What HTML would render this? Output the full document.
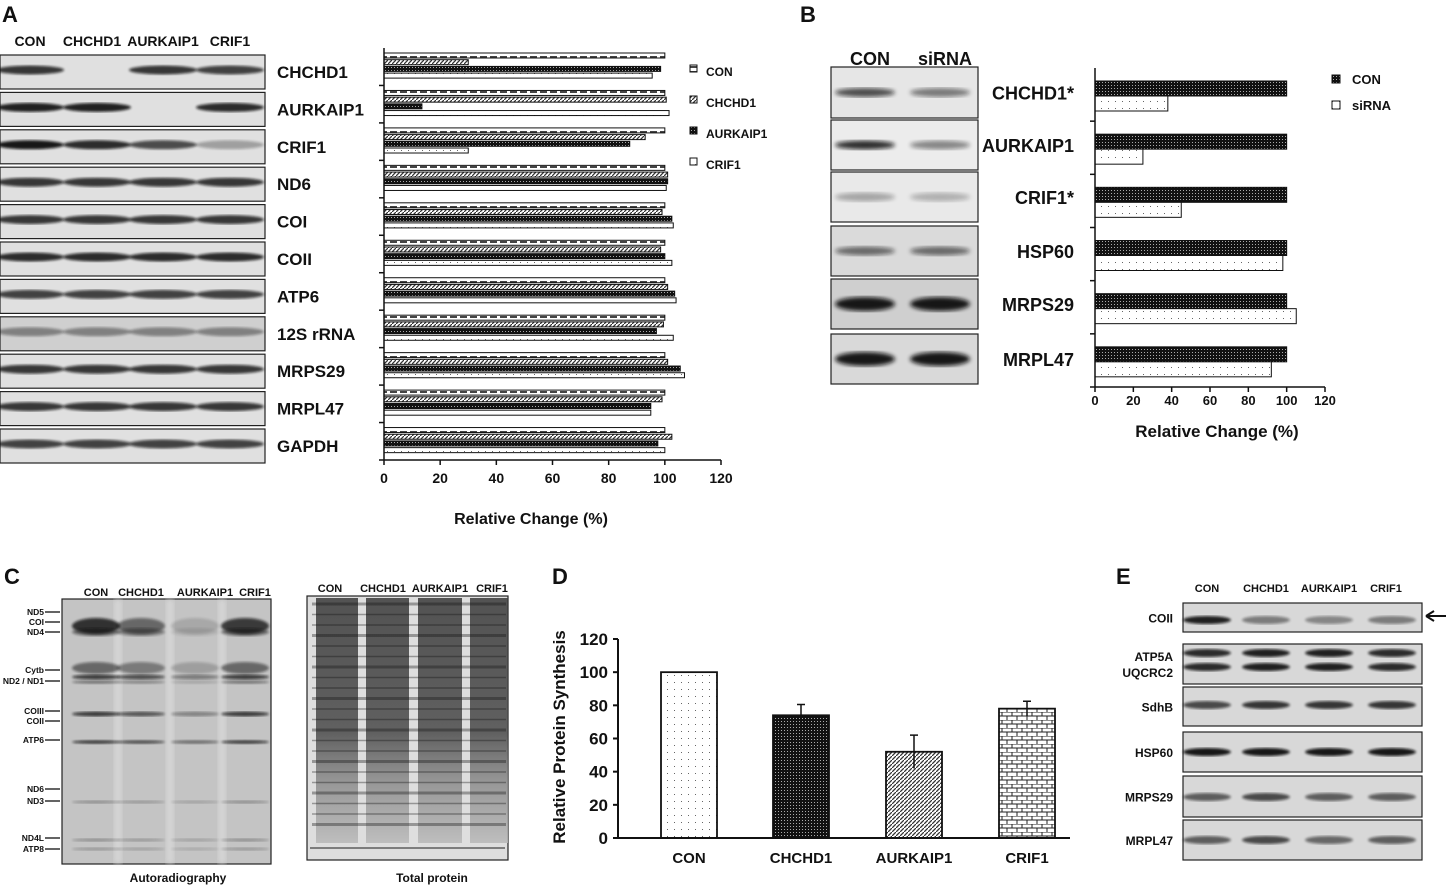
<!DOCTYPE html>
<html><head><meta charset="utf-8"><style>
html,body{margin:0;padding:0;background:#fff;}
svg{display:block;font-family:"Liberation Sans",Arial,sans-serif;font-weight:bold;}
</style></head><body>
<svg id="fig" width="1446" height="887" viewBox="0 0 1446 887" xmlns="http://www.w3.org/2000/svg">
<defs>
<filter id="blur2"><feGaussianBlur stdDeviation="2.2"/></filter>
<filter id="blur1"><feGaussianBlur stdDeviation="1.2"/></filter>
<linearGradient id="laneGrad" x1="0" y1="0" x2="0" y2="1">
<stop offset="0" stop-color="#3a3a3a"/><stop offset="0.55" stop-color="#4a4a4a"/><stop offset="0.75" stop-color="#8a8a8a"/><stop offset="1" stop-color="#b8b8b8"/></linearGradient>
<pattern id="pCon" width="10" height="5" patternUnits="userSpaceOnUse"><rect width="10" height="5" fill="#fff"/><rect x="0" y="1" width="7" height="2" fill="#444"/></pattern>
<pattern id="pHatch" width="4" height="4" patternUnits="userSpaceOnUse"><rect width="4" height="4" fill="#fff"/><path d="M0,4 L4,0" stroke="#333" stroke-width="1.3"/></pattern>
<pattern id="pDark" width="3" height="3" patternUnits="userSpaceOnUse"><rect width="3" height="3" fill="#111"/><rect x="1" y="1" width="1" height="1" fill="#aaa"/></pattern>
<pattern id="pDot" width="7" height="7" patternUnits="userSpaceOnUse"><rect width="7" height="7" fill="#fff"/><rect x="2" y="3" width="1" height="1" fill="#666"/></pattern>
<pattern id="pBrick" width="10" height="8" patternUnits="userSpaceOnUse"><rect width="10" height="8" fill="#fff"/><path d="M0,0H10M0,4H10M2,0V4M7,4V8" stroke="#222" stroke-width="1"/></pattern>
</defs>
<g id="root"></g>
</svg>
<script>
// ---------- Panel A data ----------
const aGenes = ["CHCHD1","AURKAIP1","CRIF1","ND6","COI","COII","ATP6","12S rRNA","MRPS29","MRPL47","GAPDH"];
const aSeries = ["CON","CHCHD1","AURKAIP1","CRIF1"];
const aCON = [100,100,100,100,100,100,100,100,100,100,100];
const aCHCHD1 = [30,100.5,93,101,99,98.5,101,99.5,101,99,102.5];
const aAURK = [98.5,13.5,87.5,101,102.5,100,103.5,97,105.5,95,97.5];
const aCRIF1 = [95.5,101.5,30,100.5,103,102.5,104,103,107,95,100];
const aTicks = [0,20,40,60,80,100,120];
// ---------- Panel B data ----------
const bGenes = ["CHCHD1*","AURKAIP1","CRIF1*","HSP60","MRPS29","MRPL47"];
const bCON = [100,100,100,100,100,100];
const bSi = [38,25,45,98,105,92];
const bTicks = [0,20,40,60,80,100,120];
// ---------- Panel D data ----------
const dCats = ["CON","CHCHD1","AURKAIP1","CRIF1"];
const dVals = [100,74,52,78];
const dErr = [0,6.5,10,4.5];
const dTicks = [0,20,40,60,80,100,120];

const NS="http://www.w3.org/2000/svg";
const root=document.getElementById('root');
function mk(tag,attrs,parent){const e=document.createElementNS(NS,tag);for(const k in attrs)e.setAttribute(k,attrs[k]);(parent||root).appendChild(e);return e;}
function txt(x,y,s,size,anchor,parent){const t=mk('text',{x:x,y:y,'font-size':size,'text-anchor':anchor||'start',fill:'#111'},parent);t.textContent=s;return t;}

// Panel letters
[["A",2,22],["B",800,22],["C",4,584],["D",552,584],["E",1116,584]].forEach(p=>{const t=txt(p[1],p[2],p[0],22);

});

// ---- Panel A blots ----
const gA=mk('g',{});


["CON","CHCHD1","AURKAIP1","CRIF1"].forEach((s,i)=>{txt([30,92,163,230][i],46,s,14,'middle',gA);});
const aInt=[[0.8,0.05,0.8,0.75],[0.9,0.9,0.05,0.85],[0.95,0.85,0.7,0.3],[0.8,0.8,0.8,0.8],[0.8,0.8,0.8,0.8],[0.85,0.85,0.85,0.85],[0.75,0.75,0.75,0.75],[0.4,0.4,0.4,0.4],[0.8,0.8,0.8,0.8],[0.8,0.8,0.8,0.8],[0.75,0.75,0.75,0.75]];
aGenes.forEach((g,r)=>{
  const y=55+r*37.4;
  mk('rect',{x:0,y:y,width:265,height:34,fill:r==7?'#cfcfcf':'#e0e0e0',stroke:'#222','stroke-width':1.2},gA);
  [30,97,163,230].forEach((cx,i)=>{const v=aInt[r][i];if(v>0.08)mk('ellipse',{cx:cx,cy:y+15,rx:34,ry:4.5,fill:'#111',opacity:v,filter:'url(#blur1)'},gA);});
  const t=txt(277,y+23,g,17,'start',gA);
  
  
});

// ---- Panel A chart ----
const gAc=mk('g',{});


const ax0=384, axScale=(721-384)/120, aTop=48, aBot=460, aGH=(aBot-aTop)/aGenes.length;
const xA=v=>ax0+v*axScale;
const aData=[aCON,aCHCHD1,aAURK,aCRIF1];
const aFills=['url(#pCon)','url(#pHatch)','url(#pDark)','url(#pDot)'];
aGenes.forEach((g,gi)=>{
  aData.forEach((arr,si)=>{
    const r=mk('rect',{x:xA(0),y:aTop+gi*aGH+5+si*6.7,width:xA(arr[gi])-xA(0),height:5,fill:aFills[si],stroke:'#111','stroke-width':1},gAc);
    
    
  });
  mk('line',{x1:ax0-5,x2:ax0,y1:aTop+(gi+1)*aGH,y2:aTop+(gi+1)*aGH,stroke:'#111','stroke-width':1.5},gAc);
});
mk('line',{x1:ax0,x2:ax0,y1:aTop,y2:aBot,stroke:'#111','stroke-width':1.5},gAc);
mk('line',{x1:ax0,x2:xA(120),y1:aBot,y2:aBot,stroke:'#111','stroke-width':1.5},gAc);
aTicks.forEach(t=>{mk('line',{x1:xA(t),x2:xA(t),y1:aBot,y2:aBot+5,stroke:'#111','stroke-width':1.5},gAc);
  const l=txt(xA(t),483,String(t),14,'middle',gAc);
  
  });
const aXT=txt(531,524,"Relative Change (%)",16,'middle',gAc);


aSeries.forEach((s,i)=>{const y=72+i*31;
  const le=mk('g',{},gAc);
  
  
  mk('rect',{x:690,y:y-7,width:7,height:7,fill:aFills[i],stroke:'#111','stroke-width':1},le);
  txt(706,y+4,s,12,'start',le);});

// ---- Panel B blots ----
const gB=mk('g',{});


txt(870,65,"CON",18,'middle',gB);txt(945,65,"siRNA",18,'middle',gB);
const bRows=[[67,51],[120,50],[172,50],[226,50],[279,50],[334,50]];
const bInt=[[0.7,0.5],[0.85,0.45],[0.3,0.25],[0.55,0.55],[0.95,0.95],[0.95,0.95]];
const bBg=['#e6e6e6','#ececec','#e9e9e9','#dadada','#cfcfcf','#d9d9d9'];
bRows.forEach((rw,r)=>{
  mk('rect',{x:831,y:rw[0],width:147,height:rw[1],fill:bBg[r],stroke:'#222','stroke-width':1.2},gB);
  [865,940].forEach((cx,i)=>mk('ellipse',{cx:cx,cy:rw[0]+rw[1]/2,rx:30,ry:r>=4?7:4.5,fill:'#111',opacity:bInt[r][i],filter:'url(#blur2)'},gB));
  const t=txt(1074,rw[0]+rw[1]/2+7,bGenes[r],18,'end',gB);
  
  
});

// ---- Panel B chart ----
const gBc=mk('g',{});


const bx0=1095, bScale=(1325-1095)/120, bTop=68, bBot=387, bGH=(bBot-bTop)/bGenes.length;
const xB=v=>bx0+v*bScale;
bGenes.forEach((g,gi)=>{
  const y0=bTop+gi*bGH+13;
  const r1=mk('rect',{x:xB(0),y:y0,width:xB(bCON[gi])-xB(0),height:15,fill:'url(#pDark)',stroke:'#111','stroke-width':1},gBc);
  
  
  const r2=mk('rect',{x:xB(0),y:y0+15,width:xB(bSi[gi])-xB(0),height:15,fill:'url(#pDot)',stroke:'#111','stroke-width':1},gBc);
  
  
  mk('line',{x1:bx0-5,x2:bx0,y1:bTop+(gi+1)*bGH,y2:bTop+(gi+1)*bGH,stroke:'#111','stroke-width':1.5},gBc);
});
mk('line',{x1:bx0,x2:bx0,y1:bTop,y2:bBot,stroke:'#111','stroke-width':1.5},gBc);
mk('line',{x1:bx0,x2:xB(120),y1:bBot,y2:bBot,stroke:'#111','stroke-width':1.5},gBc);
bTicks.forEach(t=>{mk('line',{x1:xB(t),x2:xB(t),y1:bBot,y2:bBot+5,stroke:'#111','stroke-width':1.5},gBc);
  const l=txt(xB(t),405,String(t),13,'middle',gBc);
  
  });
const bXT=txt(1217,437,"Relative Change (%)",17,'middle',gBc);


[["CON",'url(#pDark)',79],["siRNA",'url(#pDot)',105]].forEach(e=>{
  const le=mk('g',{},gBc);
  
  
  mk('rect',{x:1332,y:e[2]-4,width:8,height:8,fill:e[1],stroke:'#111','stroke-width':1},le);
  txt(1352,e[2]+5,e[0],13,'start',le);});

// ---- Panel C gels ----
const gC=mk('g',{});


["CON","CHCHD1","AURKAIP1","CRIF1"].forEach((s,i)=>txt([96,141,205,255][i],596,s,11,'middle',gC));
mk('rect',{x:62,y:599,width:209,height:265,fill:'#c4c4c4',stroke:'#222','stroke-width':1.2},gC);
[118,170,222].forEach(x=>mk('rect',{x:x-4,y:600,width:8,height:263,fill:'#d4d4d4',filter:'url(#blur2)'},gC));
const cBands=[[626,8,[0.8,0.5,0.15,0.75]],[632,4,[0.5,0.4,0.1,0.5]],[668,6,[0.5,0.4,0.2,0.5]],[677,2.5,[0.75,0.65,0.4,0.75]],[682,2,[0.4,0.3,0.15,0.4]],[714,2.5,[0.75,0.6,0.35,0.75]],[742,2,[0.7,0.6,0.45,0.7]],[802,1.5,[0.3,0.25,0.2,0.3]],[840,1.5,[0.3,0.25,0.2,0.3]],[849,1.5,[0.25,0.2,0.15,0.25]]];
cBands.forEach(b=>[96,141,195,245].forEach((cx,i)=>mk('ellipse',{cx:cx,cy:b[0],rx:24,ry:b[1],fill:'#111',opacity:b[2][i],filter:'url(#blur1)'},gC)));
[["ND5",612],["COI",622],["ND4",632],["Cytb",670],["ND2 / ND1",681],["COIII",711],["COII",721],["ATP6",740],["ND6",789],["ND3",801],["ND4L",838],["ATP8",849]].forEach(l=>{
  txt(44,l[1]+3,l[0],8.5,'end',gC);mk('line',{x1:45,x2:60,y1:l[1],y2:l[1],stroke:'#111','stroke-width':1.3},gC);});
const ct1=txt(178,882,"Autoradiography",12,'middle',gC);


["CON","CHCHD1","AURKAIP1","CRIF1"].forEach((s,i)=>txt([330,383,440,492][i],592,s,11,'middle',gC));
mk('rect',{x:307,y:596,width:201,height:264,fill:'#dedede',stroke:'#222','stroke-width':1.2},gC);
[[316,42],[366,43],[418,44],[470,38]].forEach(l=>mk('rect',{x:l[0],y:598,width:l[1],height:245,fill:'url(#laneGrad)',opacity:0.85},gC));
for(let k=0;k<22;k++){const y=604+k*10.5;mk('line',{x1:312,x2:506,y1:y,y2:y,stroke:'#111','stroke-width':k%3==0?3:1.5,opacity:0.35},gC);}
mk('line',{x1:310,x2:505,y1:848,y2:848,stroke:'#555','stroke-width':2,opacity:0.7},gC);
const ct2=txt(432,882,"Total protein",12,'middle',gC);



// ---- Panel D chart ----
const gD=mk('g',{});


const dY0=838, dScale=(838-639)/120, dX0=618, dX1=1070;
const yD=v=>dY0-v*dScale;
const dCenters=[689,801,914,1027];
const dFills=['url(#pDot)','url(#pDark)','url(#pHatch)','url(#pBrick)'];
dCats.forEach((c,i)=>{
  const r=mk('rect',{x:dCenters[i]-28,y:yD(dVals[i]),width:56,height:yD(0)-yD(dVals[i]),fill:dFills[i],stroke:'#111','stroke-width':1.8},gD);
  
  
  if(dErr[i]>0){
    const e=mk('path',{d:`M${dCenters[i]},${yD(dVals[i]-dErr[i])}V${yD(dVals[i]+dErr[i])}M${dCenters[i]-4},${yD(dVals[i]+dErr[i])}H${dCenters[i]+4}`,stroke:'#111','stroke-width':1.5,fill:'none'},gD);
    
    
  }
  const l=txt(dCenters[i],863,c,15,'middle',gD);
  
  
});
mk('line',{x1:dX0,x2:dX0,y1:yD(120),y2:dY0,stroke:'#111','stroke-width':2},gD);
mk('line',{x1:dX0,x2:dX1,y1:dY0,y2:dY0,stroke:'#111','stroke-width':2},gD);
dTicks.forEach(t=>{mk('line',{x1:dX0-5,x2:dX0,y1:yD(t),y2:yD(t),stroke:'#111','stroke-width':2},gD);
  const l=txt(608,yD(t)+6,String(t),17,'end',gD);
  
  });
const dYT=txt(0,0,"Relative Protein Synthesis",17,'middle',gD);
dYT.setAttribute('transform','translate(565,737) rotate(-90)');



// ---- Panel E blots ----
const gE=mk('g',{});


["CON","CHCHD1","AURKAIP1","CRIF1"].forEach((s,i)=>txt([1207,1266,1329,1386][i],592,s,11,'middle',gE));
const eRows=[["COII",603,29,[[620,[0.9,0.45,0.4,0.45]]]],["ATP5A|UQCRC2",644,40,[[653,[0.85,0.9,0.9,0.85]],[667,[0.85,0.9,0.9,0.85]]]],["SdhB",687,39,[[705,[0.7,0.8,0.8,0.8]]]],["HSP60",732,40,[[752,[0.95,0.95,0.95,0.95]]]],["MRPS29",776,41,[[797,[0.6,0.7,0.6,0.6]]]],["MRPL47",820,40,[[840,[0.6,0.7,0.55,0.6]]]]];
eRows.forEach(rw=>{
  mk('rect',{x:1183,y:rw[1],width:239,height:rw[2],fill:'#d8d8d8',stroke:'#222','stroke-width':1.2},gE);
  rw[3].forEach(b=>[1207,1266,1329,1392].forEach((cx,i)=>mk('ellipse',{cx:cx,cy:b[0],rx:24,ry:4,fill:'#111',opacity:b[1][i],filter:'url(#blur1)'},gE)));
  const parts=rw[0].split('|');
  parts.forEach((p,k)=>txt(1173,rw[1]+rw[2]/2+5+(parts.length>1?(k?8:-8):0),p,12,'end',gE));
});
mk('path',{d:'M1426,616H1446M1426,616L1434,611M1426,616L1434,621',stroke:'#111','stroke-width':2,fill:'none'},gE);
</script>
</body></html>
